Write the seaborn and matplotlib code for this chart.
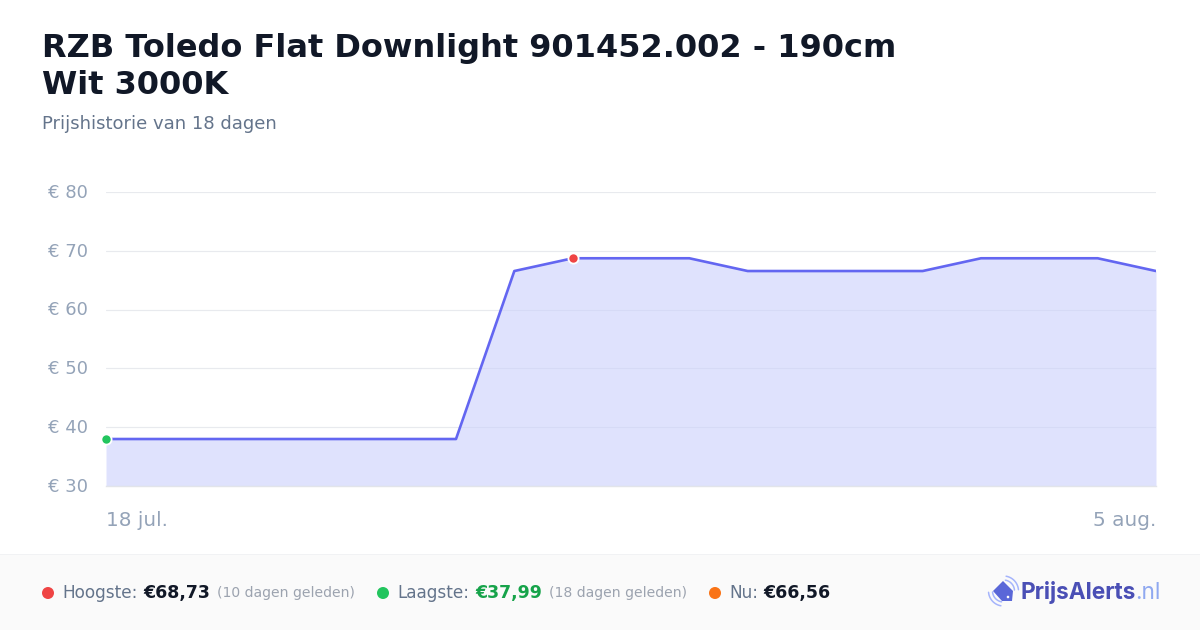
import numpy as np
import pandas as pd
import matplotlib
matplotlib.use('Agg')
import matplotlib.pyplot as plt
from matplotlib.patches import Rectangle, Circle, Polygon
from matplotlib.transforms import ScaledTranslation
import seaborn as sns

# data
days = pd.date_range('2025-07-18', periods=19)
prices = [37.99, 37.99, 37.99, 37.99, 37.99, 37.99, 37.99, 66.56, 68.73, 68.73, 68.73,
          66.56, 66.56, 66.56, 66.56, 68.73, 68.73, 68.73, 66.56]
y_ticks = [30, 40, 50, 60, 70, 80]
y_labels = ['€ 30', '€ 40', '€ 50', '€ 60', '€ 70', '€ 80']
date_labels = ['18 jul.', '5 aug.']

W, H = 1200, 630
df = pd.DataFrame({'dag': days, 'prijs': prices})

sns.set_theme(style='white')
plt.rcParams['font.family'] = ['DejaVu Sans']

fig = plt.figure(figsize=(12, 6.3), dpi=100, facecolor='white')
ax = fig.add_axes([106 / W, 1 - 486 / H, 1050 / W, 294 / H])


def txt(px, py, s, **kw):
    kw.setdefault('va', 'center')
    return fig.text(px / W, 1 - py / H, s, **kw)


ax.set_axisbelow(True)
ax.grid(axis='y', color='#e8eaee', lw=0.85, zorder=0)
ax.fill_between(df['dag'], df['prijs'], 30, color='#cbd0fc', alpha=0.6, lw=0, zorder=2)
sns.lineplot(data=df, x='dag', y='prijs', color='#6366f1', lw=1.9, ax=ax, zorder=3)
ax.set_xlim(days[0], days[-1])
ax.set_ylim(30, 80)
ax.set_xlabel('')
ax.set_ylabel('')
ax.set_yticks(y_ticks)
ax.set_yticklabels(y_labels)
ax.set_xticks([])
ax.tick_params(axis='y', length=0, pad=13, labelsize=13, labelcolor='#94a3b8')
nudge = ScaledTranslation(0, -0.8 / 100, fig.dpi_scale_trans)
for lab in ax.get_yticklabels():
    lab.set_va('center')
    lab.set_transform(lab.get_transform() + nudge)
sns.despine(ax=ax, left=True, bottom=False, top=True, right=True)
ax.spines['bottom'].set_color('#e2e4ea')
ax.spines['bottom'].set_linewidth(1)
ax.patch.set_alpha(0)

# high and low markers
hi = int(np.argmax(prices))
lo = int(np.argmin(prices))
ax.scatter(days[hi], prices[hi], s=54, color='#ef4444', edgecolor='white', lw=1.3, zorder=5, clip_on=False)
ax.scatter(days[lo], prices[lo], s=54, color='#22c55e', edgecolor='white', lw=1.3, zorder=5, clip_on=False)

# title block
txt(42, 48, 'RZB Toledo Flat Downlight 901452.002 - 190cm', fontsize=23.05, fontweight='bold', color='#111827')
txt(42, 85, 'Wit 3000K', fontsize=23.05, fontweight='bold', color='#111827')
txt(42, 124, 'Prijshistorie van 18 dagen', fontsize=12.95, color='#64748b')

# date labels
txt(106, 521, date_labels[0], fontsize=14.4, color='#94a3b8')
txt(1156, 521, date_labels[1], fontsize=14.4, color='#94a3b8', ha='right')

# footer
fig.add_artist(Rectangle((0, 0), 1, 75 / H, transform=fig.transFigure, color='#fafafa', lw=0, zorder=-1))
fig.add_artist(Rectangle((0, 75 / H), 1, 1 / H, transform=fig.transFigure, color='#f1f2f4', lw=0, zorder=-1))

# overlay in pixel coordinates, keeps the round shapes round
ov = fig.add_axes([0, 0, 1, 1], facecolor='none')
ov.set_xlim(0, W)
ov.set_ylim(H, 0)
ov.axis('off')

for cx, col in [(48, '#ef4444'), (383, '#22c55e'), (715, '#f97316')]:
    ov.add_patch(Circle((cx, 593), 6, color=col, lw=0))

txt(62, 593, 'Hoogste:', fontsize=12.2, color='#64748b')
txt(143, 593, '€68,73', fontsize=12.5, fontweight='bold', color='#111827')
txt(217, 593, '(10 dagen geleden)', fontsize=10.05, color='#9ca3af')
txt(397, 593, 'Laagste:', fontsize=12.2, color='#64748b')
txt(475, 593, '€37,99', fontsize=12.5, fontweight='bold', color='#16a34a')
txt(549, 593, '(18 dagen geleden)', fontsize=10.05, color='#9ca3af')
txt(729, 593, 'Nu:', fontsize=12.2, color='#64748b')
txt(763, 593, '€66,56', fontsize=12.5, fontweight='bold', color='#111827')

# logo
for r in (11, 15):
    a = np.radians(np.linspace(-80, -5, 20))
    ov.plot(1003.5 + r * np.cos(a), 591 + r * np.sin(a), color='#a5b4fc', lw=1.1)
    a = np.radians(np.linspace(100, 175, 20))
    ov.plot(1003.5 + r * np.cos(a), 591 + r * np.sin(a), color='#a5b4fc', lw=1.1)
ov.add_patch(Polygon([(1003, 581), (1013, 591), (1012, 601), (1002, 601), (993, 591)],
                     closed=True, facecolor='#5a67d8', lw=0, zorder=4))
ov.add_patch(Circle((1008, 597), 1.3, color='white', lw=0, zorder=5))
txt(1021, 593, 'PrijsAlerts', fontsize=16.3, fontweight='bold', family='Inter', color='#4a4fb5')
txt(1135, 593, '.nl', fontsize=16.3, family='Inter', color='#8fa8f0')

fig.savefig('out.png', dpi=100, facecolor='white')
